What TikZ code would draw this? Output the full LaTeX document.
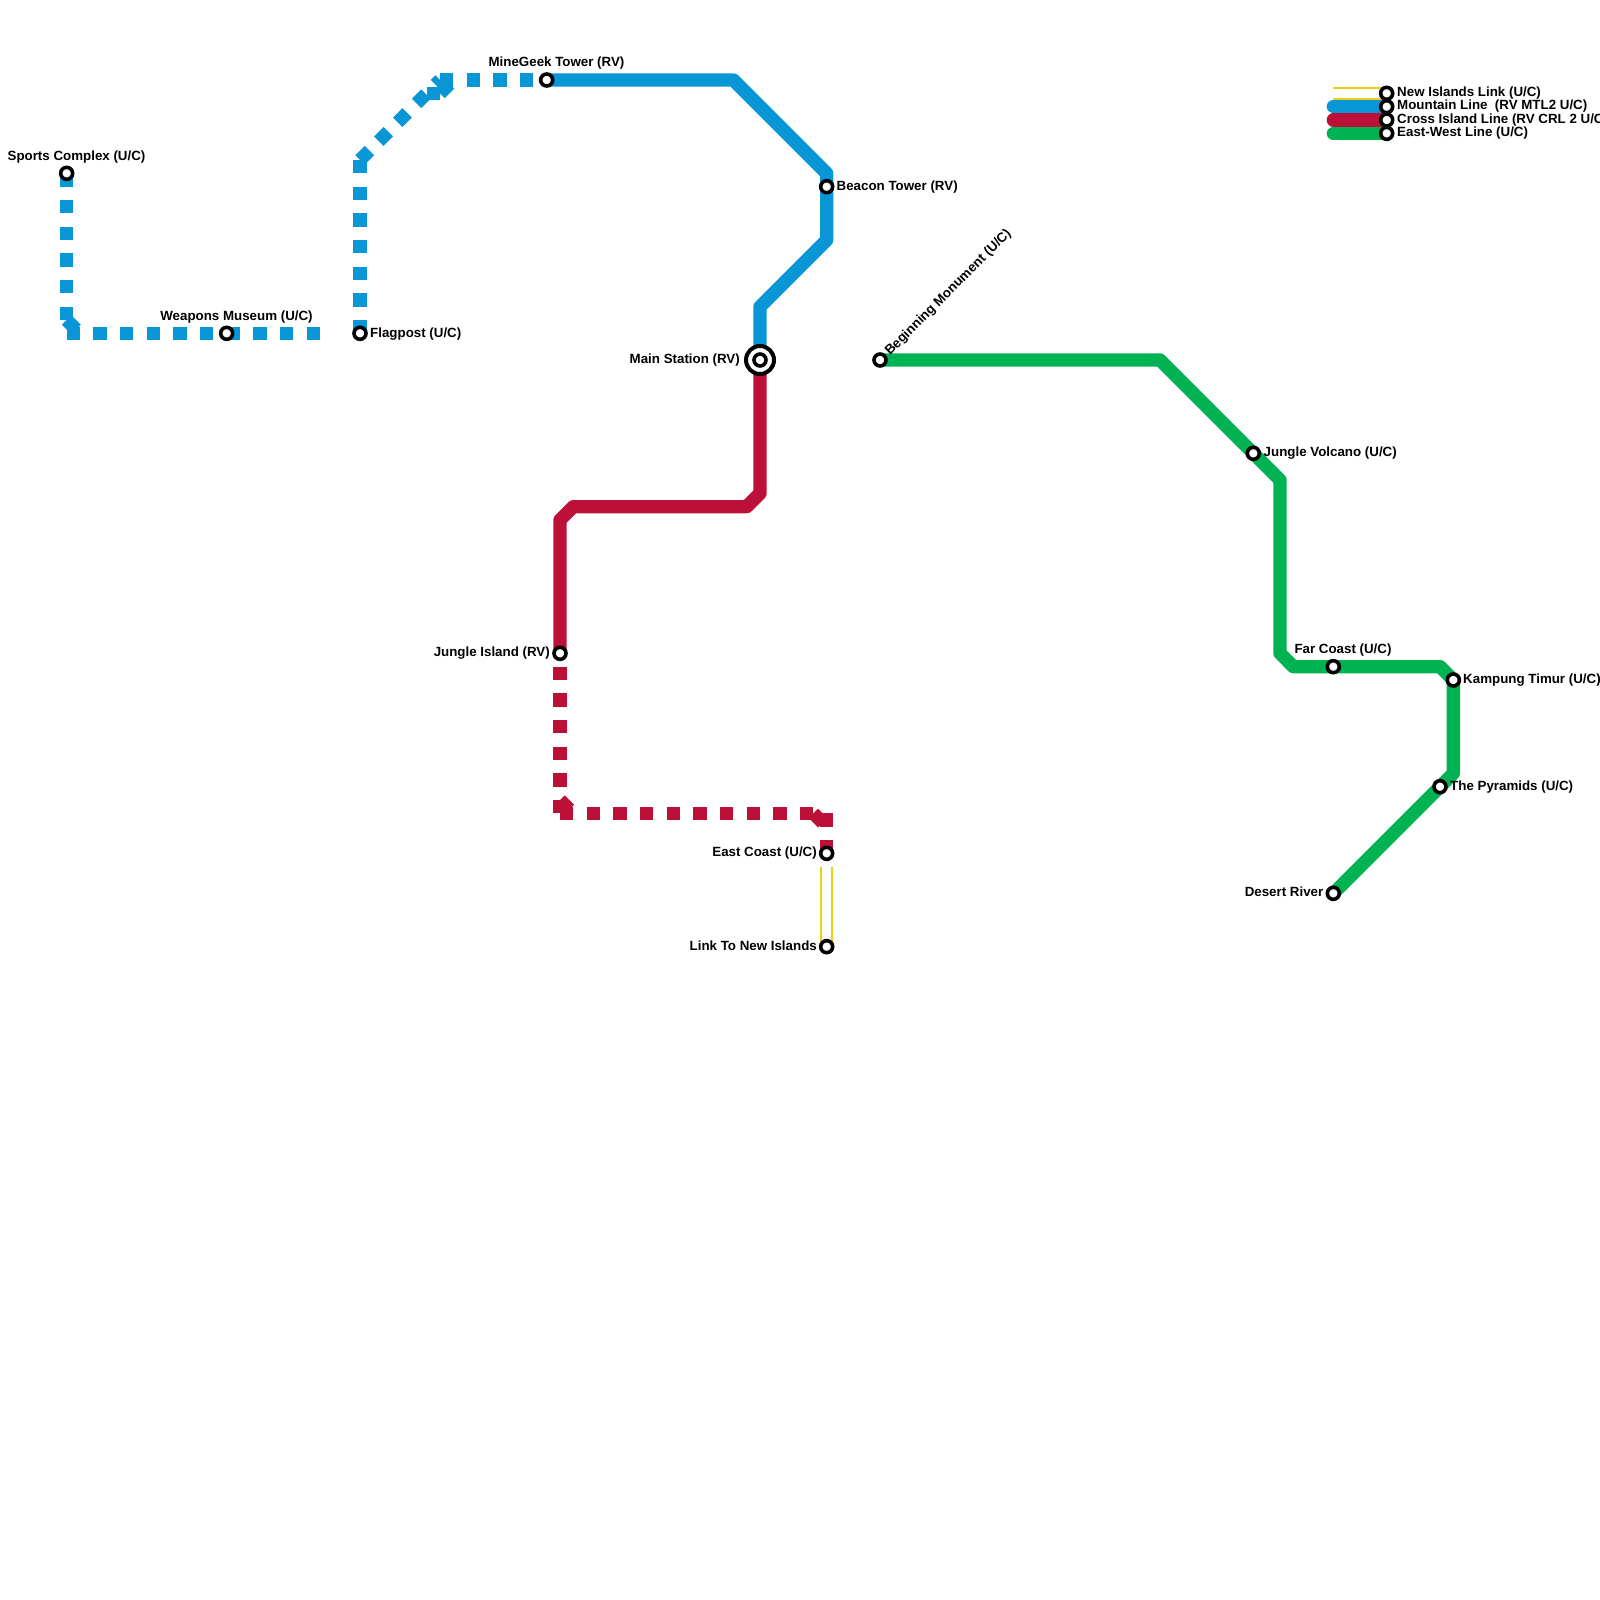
\documentclass[tikz,border=0pt]{standalone}
\usepackage{fontspec}
\setmainfont{Liberation Sans}
\definecolor{mblue}{HTML}{0896D7}
\definecolor{mred}{HTML}{BD1038}
\definecolor{mgreen}{HTML}{00B251}
\definecolor{myellow}{HTML}{F0CE15}
\tikzset{
  x=1pt,y=-1pt,
  metro/.style={line width=13.33pt,line join=round},
  dashline/.style={metro,dash pattern=on 13.33pt off 13.33pt},
  stn/.style={circle,draw=black,fill=white,line width=3.6pt,minimum size=12pt,inner sep=0pt},
  ilabel/.style={inner sep=0pt,font=\bfseries\fontsize{13.33}{15}\selectfont,text=black},
  legendline/.style={line width=13.33pt,line cap=round},
}
\begin{document}
\begin{tikzpicture}
\useasboundingbox (0,0) rectangle (1600,1600);
% coordinates
\coordinate (sc) at (66.67,173.33);
\coordinate (b1) at (66.67,320);
\coordinate (b2) at (80,333.33);
\coordinate (b2a) at (66.67,333.33);
\coordinate (b3) at (326,333.33);
\coordinate (b4) at (360,160);
\coordinate (b5) at (440,80);
\coordinate (b6) at (426.67,93.33);
\coordinate (b7) at (440,93.33);
\coordinate (b8) at (453.33,80);
\coordinate (m1) at (733.33,80);
\coordinate (m2) at (826.67,173.33);
\coordinate (m3) at (826.67,240);
\coordinate (m4) at (760,306.67);
\coordinate (r1) at (760,493.33);
\coordinate (r2) at (746.67,506.67);
\coordinate (r3) at (573.33,506.67);
\coordinate (r4) at (560,520);
\coordinate (r5) at (560,813.33);
\coordinate (r6) at (560,800);
\coordinate (r7) at (573.33,813.33);
\coordinate (r8) at (813.33,813.33);
\coordinate (r9) at (826.67,826.67);
\coordinate (r10) at (826.67,813.33);
\coordinate (y1) at (826.67,866.67);
\coordinate (g1) at (1160,360);
\coordinate (g2) at (1280,480);
\coordinate (g3) at (1280,653.33);
\coordinate (g4) at (1293.33,666.67);
\coordinate (g5) at (1440,666.67);
\coordinate (g6) at (1453.33,680);
\coordinate (g7) at (1453.33,773.33);
\coordinate (l0) at (1333.33,93.33);
\coordinate (l1) at (1333.33,106.67);
\coordinate (l2) at (1333.33,120);
\coordinate (l3) at (1333.33,133.33);
% stations (named first, drawn on top afterwards)
\path
 (66.67,173.33) coordinate (Ssc)
 (226.67,333.33) coordinate (Swm)
 (360,333.33) coordinate (Sfp)
 (546.67,80) coordinate (Smg)
 (826.67,186.67) coordinate (Sbt)
 (760,360) coordinate (Sms)
 (880,360) coordinate (Sbm)
 (1253.33,453.33) coordinate (Sjv)
 (1333.33,666.67) coordinate (Sfc)
 (1453.33,680) coordinate (Skt)
 (1440,786.67) coordinate (Spy)
 (1333.33,893.33) coordinate (Sdr)
 (560,653.33) coordinate (Sji)
 (826.67,853.33) coordinate (Sec)
 (826.67,946.67) coordinate (Sln)
 (1386.67,93.33) coordinate (Sl0)
 (1386.67,106.67) coordinate (Sl1)
 (1386.67,120) coordinate (Sl2)
 (1386.67,133.33) coordinate (Sl3);
% legend
\draw[line width=13.33pt,myellow] (l0) -- (Sl0);
\draw[line width=9.33pt,white] (l0) -- (Sl0);
\draw[legendline,mblue] (l1) -- (Sl1);
\draw[legendline,mred] (l2) -- (Sl2);
\draw[legendline,mgreen] (l3) -- (Sl3);
% blue
\draw[dashline,mblue] (sc) -- (b1);
\draw[dashline,mblue] (b1) -- (b2);
\draw[dashline,mblue] (b2a) -- (b3);
\draw[dashline,mblue] (b4) -- (Sfp);
\draw[dashline,mblue] (b4) -- (b5);
\draw[dashline,mblue] (b6) -- (b7);
\draw[dashline,mblue] (b7) -- (b8);
\draw[dashline,mblue] (b5) -- (Smg);
\draw[metro,mblue] (Smg) -- (m1) -- (m2) -- (m3) -- (m4) -- (Sms);
% red
\draw[metro,mred] (Sms) -- (r1) -- (r2) -- (r3) -- (r4) -- (Sji);
\draw[dashline,mred] (r5) -- (Sji);
\draw[dashline,mred] (r6) -- (r7);
\draw[dashline,mred] (r5) -- (r8);
\draw[dashline,mred] (r8) -- (r9);
\draw[dashline,mred] (r10) -- (Sec);
% yellow
\draw[line width=13.33pt,myellow] (y1) -- (Sln);
\draw[line width=9.33pt,white] (y1) -- (Sln);
% green
\draw[metro,mgreen] (Sbm) -- (g1) -- (g2) -- (g3) -- (g4) -- (g5) -- (g6) -- (g7) -- (Spy) -- (Sdr);
% stations
\node[stn] (nsc) at (Ssc) {};
\node[stn] (nwm) at (Swm) {};
\node[stn] (nfp) at (Sfp) {};
\node[stn] (nmg) at (Smg) {};
\node[stn] (nbt) at (Sbt) {};
\node[circle,draw=black,fill=white,line width=4pt,minimum size=28pt,inner sep=0pt] (nms) at (Sms) {};
\node[stn] (nmsi) at (Sms) {};
\node[stn] (nbm) at (Sbm) {};
\node[stn] (njv) at (Sjv) {};
\node[stn] (nfc) at (Sfc) {};
\node[stn] (nkt) at (Skt) {};
\node[stn] (npy) at (Spy) {};
\node[stn] (ndr) at (Sdr) {};
\node[stn] (nji) at (Sji) {};
\node[stn] (nec) at (Sec) {};
\node[stn] (nln) at (Sln) {};
\node[stn] (nl0) at (Sl0) {};
\node[stn] (nl1) at (Sl1) {};
\node[stn] (nl2) at (Sl2) {};
\node[stn] (nl3) at (Sl3) {};
% labels
\node[ilabel,anchor=base] (tsc) at (76.5,160.5) {Sports Complex (U/C)};
\node[ilabel,anchor=base] (twm) at (236.5,320) {Weapons Museum (U/C)};
\node[ilabel,anchor=base west] (tfp) at (370,337) {Flagpost (U/C)};
\node[ilabel,anchor=base] (tmg) at (556.5,66.5) {MineGeek Tower (RV)};
\node[ilabel,anchor=base west] (tbt) at (836.5,190) {Beacon Tower (RV)};
\node[ilabel,anchor=base east] (tms) at (740,363) {Main Station (RV)};
\node[ilabel,anchor=base west,rotate=45] (tbm) at (890,356) {Beginning Monument (U/C)};
\node[ilabel,anchor=base west] (tjv) at (1263.5,456.5) {Jungle Volcano (U/C)};
\node[ilabel,anchor=base] (tfc) at (1343,653) {Far Coast (U/C)};
\node[ilabel,anchor=base west] (tkt) at (1463,683.5) {Kampung Timur (U/C)};
\node[ilabel,anchor=base west] (tpy) at (1450,790) {The Pyramids (U/C)};
\node[ilabel,anchor=base east] (tdr) at (1323.5,896.5) {Desert River};
\node[ilabel,anchor=base east] (tji) at (550,656.5) {Jungle Island (RV)};
\node[ilabel,anchor=base east] (tec) at (817,856.5) {East Coast (U/C)};
\node[ilabel,anchor=base east] (tln) at (817,950) {Link To New Islands};
\node[ilabel,anchor=base west] (tl0) at (1397,96.5) {New Islands Link (U/C)};
\node[ilabel,anchor=base west] (tl1) at (1397,110) {Mountain Line\ \ (RV MTL2 U/C)};
\node[ilabel,anchor=base west] (tl2) at (1397,123.5) {Cross Island Line (RV CRL 2 U/C};
\node[ilabel,anchor=base west] (tl3) at (1397,136.5) {East-West Line (U/C)};
\end{tikzpicture}
\end{document}
